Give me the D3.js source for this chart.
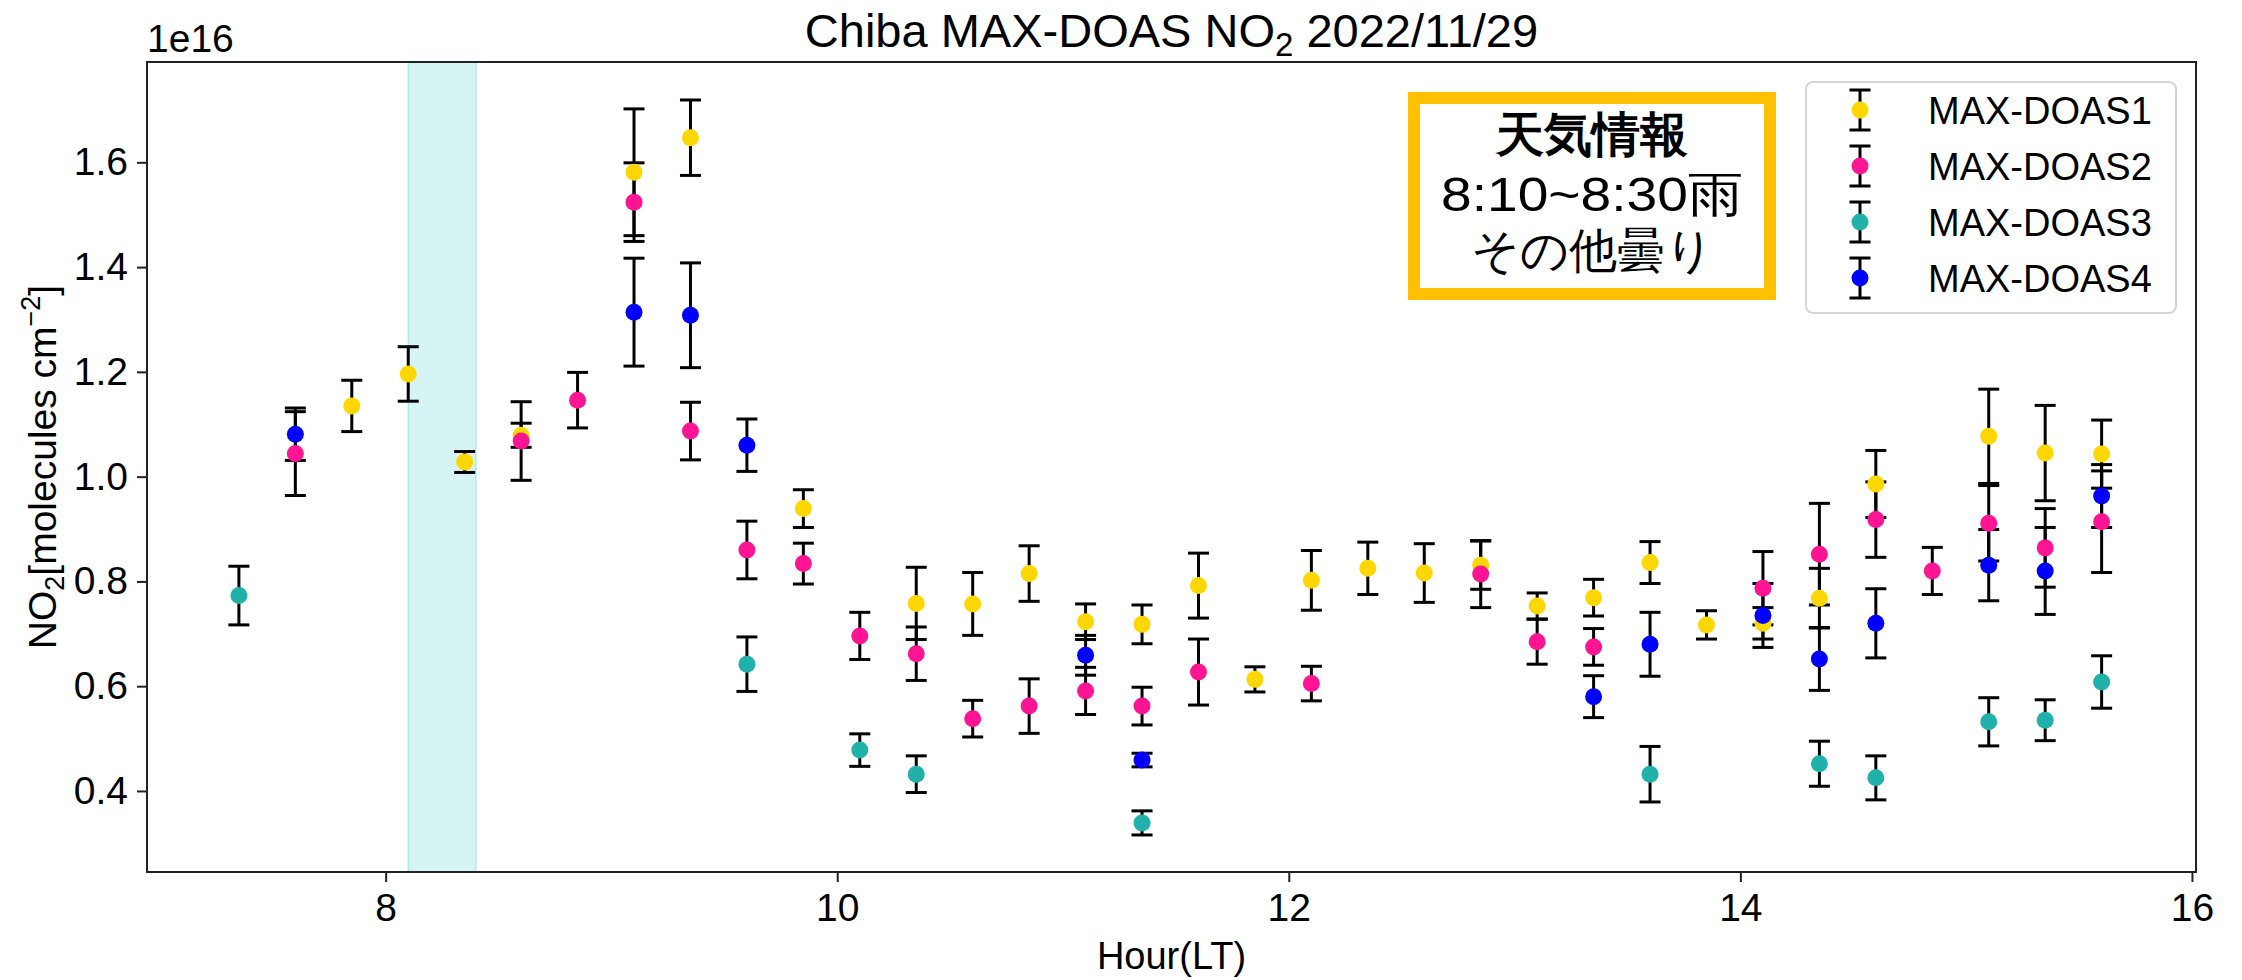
<!DOCTYPE html>
<html>
<head>
<meta charset="utf-8">
<script src="https://cdn.jsdelivr.net/npm/d3@7"></script>
<style>
  body { margin: 0; background: #fff; }
  svg { display: block; }
  text { font-family: "Liberation Sans", Arial, sans-serif; fill: #000; }
</style>
</head>
<body>
<div id="chart"></div>
<script>
var w = 2242;
var h = 980;

// measurement times (hour, local time)
var hours = [7.35, 7.6, 7.85, 8.1, 8.35, 8.6, 8.85, 9.1, 9.35, 9.6, 9.85,
             10.1, 10.35, 10.6, 10.85, 11.1, 11.35, 11.6, 11.85, 12.1, 12.35,
             12.6, 12.85, 13.1, 13.35, 13.6, 13.85, 14.1, 14.35, 14.6, 14.85,
             15.1, 15.35, 15.6];

// NO2 columns (x1e16 molecules cm-2) and 1-sigma errors, null = no data
var doas1    = [null, null, 1.135, 1.196, 1.028, 1.079, null, 1.581, 1.647, null, 0.939,
                null, 0.758, 0.757, 0.815, 0.723, 0.718, 0.792, 0.613, 0.802, 0.825,
                0.816, 0.831, 0.753, 0.769, 0.836, 0.717, 0.720, 0.768, 0.986, null,
                1.077, 1.045, 1.043];
var doas1Err = [null, null, 0.049, 0.052, 0.020, 0.023, null, 0.121, 0.072, null, 0.036,
                null, 0.069, 0.060, 0.053, 0.034, 0.037, 0.062, 0.024, 0.057, 0.050,
                0.056, 0.046, 0.025, 0.035, 0.040, 0.027, 0.030, 0.057, 0.064, null,
                0.090, 0.091, 0.065];

var doas2    = [null, 1.044, null, null, null, 1.068, 1.146, 1.524, 1.087, 0.860, 0.834,
                0.696, 0.662, 0.538, 0.562, 0.591, 0.562, 0.627, null, 0.605, null,
                null, 0.814, 0.685, 0.675, null, null, 0.787, 0.852, 0.918, 0.820,
                0.911, 0.864, 0.914];
var doas2Err = [null, 0.080, null, null, null, 0.075, 0.053, 0.075, 0.055, 0.055, 0.039,
                0.045, 0.051, 0.035, 0.052, 0.045, 0.036, 0.063, null, 0.033, null,
                null, 0.064, 0.043, 0.035, null, null, 0.070, 0.097, 0.072, 0.045,
                0.072, 0.075, 0.097];

var doas3    = [0.773, null, null, null, null, null, null, null, null, 0.642, null,
                0.478, 0.432, null, null, null, 0.339, null, null, null, null,
                null, null, null, null, 0.432, null, null, 0.452, 0.425, null,
                0.532, 0.535, 0.608];
var doas3Err = [0.056, null, null, null, null, null, null, null, null, 0.052, null,
                0.031, 0.035, null, null, null, 0.023, null, null, null, null,
                null, null, null, null, 0.053, null, null, 0.043, 0.042, null,
                0.046, 0.039, 0.050];

var doas4    = [null, 1.081, null, null, null, null, null, 1.314, 1.308, 1.060, null,
                null, null, null, null, 0.659, 0.459, null, null, null, null,
                null, null, null, 0.580, 0.680, null, 0.735, 0.652, 0.720, null,
                0.831, 0.820, 0.963];
var doas4Err = [null, 0.050, null, null, null, null, null, 0.103, 0.100, 0.050, null,
                null, null, null, null, 0.038, 0.013, null, null, null, null,
                null, null, null, 0.040, 0.061, null, 0.061, 0.060, 0.066, null,
                0.068, 0.083, 0.060];

var seriesNames = ["MAX-DOAS1", "MAX-DOAS2", "MAX-DOAS3", "MAX-DOAS4"];
var seriesColors = ["#FFD700", "#FF1493", "#20B2AA", "#0000FF"];
var seriesValues = [doas1, doas2, doas3, doas4];
var seriesErrors = [doas1Err, doas2Err, doas3Err, doas4Err];

var xTicks = [8, 10, 12, 14, 16];
var yTicks = [0.4, 0.6, 0.8, 1.0, 1.2, 1.4, 1.6];
var rainSpan = [8.1, 8.4];
var weatherLines = ["天気情報", "8:10~8:30雨", "その他曇り"];

// plot area (don't use "top" - it's window.top)
var pL = 147, pR = 2196, pT = 62, pB = 872;

var xScale = d3.scaleLinear().domain([6.943, 16.018]).range([pL, pR]);
var yScale = d3.scaleLinear().domain([0.2453, 1.7915]).range([pB, pT]);

var svg = d3.select("#chart").append("svg")
  .attr("width", w)
  .attr("height", h);

// rain period
svg.append("rect")
  .attr("x", xScale(rainSpan[0]))
  .attr("y", pT)
  .attr("width", xScale(rainSpan[1]) - xScale(rainSpan[0]))
  .attr("height", pB - pT)
  .attr("fill", "#48D1CC")
  .attr("fill-opacity", 0.23)
  .attr("stroke", "#48D1CC")
  .attr("stroke-opacity", 0.35)
  .attr("stroke-width", 1.5);

// build point list per series
var series = seriesNames.map(function(name, i) {
  var pts = [];
  hours.forEach(function(hr, j) {
    if (seriesValues[i][j] != null) {
      pts.push({ x: hr, v: seriesValues[i][j], e: seriesErrors[i][j] });
    }
  });
  return { name: name, color: seriesColors[i], points: pts };
});

var capW = 10.5;

// error bars first (all series), markers on top
var bars = svg.append("g").attr("stroke", "#000").attr("stroke-width", 3);
series.forEach(function(s) {
  var g = bars.append("g");
  g.selectAll("line.v").data(s.points).enter().append("line")
    .attr("x1", function(d) { return xScale(d.x); })
    .attr("x2", function(d) { return xScale(d.x); })
    .attr("y1", function(d) { return yScale(d.v - d.e); })
    .attr("y2", function(d) { return yScale(d.v + d.e); });
  g.selectAll("line.top").data(s.points).enter().append("line")
    .attr("x1", function(d) { return xScale(d.x) - capW; })
    .attr("x2", function(d) { return xScale(d.x) + capW; })
    .attr("y1", function(d) { return yScale(d.v + d.e); })
    .attr("y2", function(d) { return yScale(d.v + d.e); });
  g.selectAll("line.bot").data(s.points).enter().append("line")
    .attr("x1", function(d) { return xScale(d.x) - capW; })
    .attr("x2", function(d) { return xScale(d.x) + capW; })
    .attr("y1", function(d) { return yScale(d.v - d.e); })
    .attr("y2", function(d) { return yScale(d.v - d.e); });
});

series.forEach(function(s) {
  svg.append("g").selectAll("circle").data(s.points).enter().append("circle")
    .attr("cx", function(d) { return xScale(d.x); })
    .attr("cy", function(d) { return yScale(d.v); })
    .attr("r", 8.5)
    .attr("fill", s.color);
});

// axes
var xAxis = d3.axisBottom(xScale).tickValues(xTicks).tickSize(10).tickPadding(11)
  .tickFormat(d3.format("d"));
var yAxis = d3.axisLeft(yScale).tickValues(yTicks).tickSize(10).tickPadding(9)
  .tickFormat(d3.format(".1f"));

var gx = svg.append("g").attr("transform", "translate(0," + pB + ")").call(xAxis);
var gy = svg.append("g").attr("transform", "translate(" + pL + ",0)").call(yAxis);
[gx, gy].forEach(function(g) {
  g.select(".domain").remove();
  g.selectAll(".tick line").attr("stroke", "#222").attr("stroke-width", 2);
  g.selectAll(".tick text")
    .attr("font-size", "39px")
    .attr("font-family", "Liberation Sans, Arial, sans-serif")
    .attr("fill", "#000");
});

// frame
svg.append("rect")
  .attr("x", pL).attr("y", pT)
  .attr("width", pR - pL).attr("height", pB - pT)
  .attr("fill", "none").attr("stroke", "#222").attr("stroke-width", 2);

// offset text
svg.append("text")
  .text("1e16")
  .attr("x", pL)
  .attr("y", 52)
  .attr("font-size", "39px");

// title
var title = svg.append("text")
  .attr("x", (pL + pR) / 2)
  .attr("y", 47)
  .attr("text-anchor", "middle")
  .attr("font-size", "47px");
title.append("tspan").text("Chiba MAX-DOAS NO");
title.append("tspan").text("2").attr("font-size", "33px").attr("dy", 9);
title.append("tspan").text(" 2022/11/29").attr("dy", -9);

// axis labels
svg.append("text")
  .text("Hour(LT)")
  .attr("x", (pL + pR) / 2)
  .attr("y", 969)
  .attr("text-anchor", "middle")
  .attr("font-size", "38px");

var ylab = svg.append("text")
  .attr("transform", "translate(56," + (pT + pB) / 2 + ") rotate(-90)")
  .attr("text-anchor", "middle")
  .attr("font-size", "39px");
ylab.append("tspan").text("NO");
ylab.append("tspan").text("2").attr("font-size", "27px").attr("dy", 8);
ylab.append("tspan").text("[molecules cm").attr("dy", -8);
ylab.append("tspan").text("\u22122").attr("font-size", "27px").attr("dy", -16);
ylab.append("tspan").text("]").attr("dy", 16);

// weather info box
svg.append("rect")
  .attr("x", 1414).attr("y", 98)
  .attr("width", 356).attr("height", 196)
  .attr("fill", "#fff")
  .attr("stroke", "#FFC000")
  .attr("stroke-width", 12);
var infoY = [134, 194, 250];
weatherLines.forEach(function(t, i) {
  var txt = svg.append("text")
    .text(t)
    .attr("x", 1592)
    .attr("y", infoY[i])
    .attr("dy", "0.36em")
    .attr("text-anchor", "middle")
    .attr("font-family", "Noto Sans CJK JP, sans-serif")
    .attr("font-weight", i == 0 ? "bold" : "normal")
    .attr("font-size", "48px");
  if (i == 1) txt.attr("textLength", 302).attr("lengthAdjust", "spacingAndGlyphs");
});

// legend
svg.append("rect")
  .attr("x", 1806).attr("y", 82)
  .attr("width", 370).attr("height", 231)
  .attr("rx", 7)
  .attr("fill", "#fff")
  .attr("fill-opacity", 0.8)
  .attr("stroke", "#d5d5d5")
  .attr("stroke-width", 2);
series.forEach(function(s, i) {
  var cy = 110 + 56 * i;
  var lx = 1860;
  var lg = svg.append("g").attr("stroke", "#000").attr("stroke-width", 3);
  lg.append("line").attr("x1", lx).attr("x2", lx).attr("y1", cy - 20).attr("y2", cy + 20);
  lg.append("line").attr("x1", lx - capW).attr("x2", lx + capW).attr("y1", cy - 20).attr("y2", cy - 20);
  lg.append("line").attr("x1", lx - capW).attr("x2", lx + capW).attr("y1", cy + 20).attr("y2", cy + 20);
  svg.append("circle").attr("cx", lx).attr("cy", cy).attr("r", 8.5).attr("fill", s.color);
  svg.append("text")
    .text(s.name)
    .attr("x", 1928)
    .attr("y", cy)
    .attr("dy", "0.36em")
    .attr("font-size", "38px");
});
</script>
</body>
</html>
